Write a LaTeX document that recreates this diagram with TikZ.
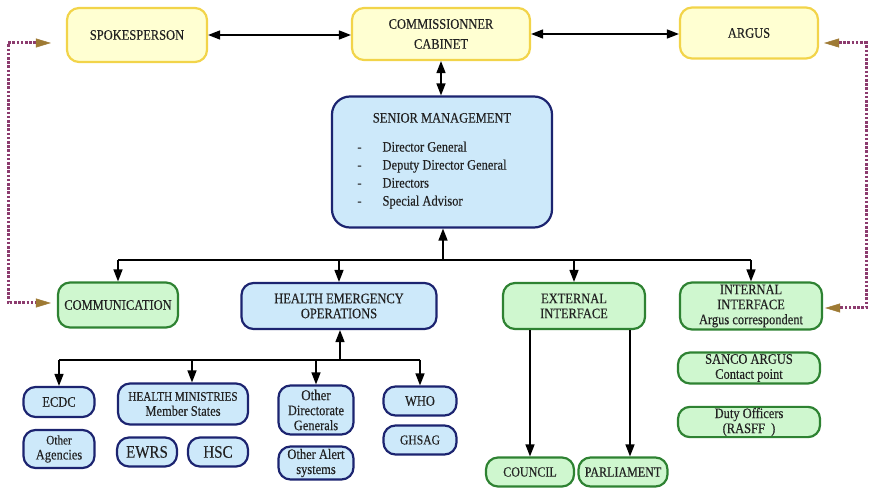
\documentclass[tikz,border=0pt]{standalone}
\usepackage{fontspec}
\setmainfont{Liberation Serif}[FakeStretch=0.86,FakeBold=0.3]
\usetikzlibrary{arrows.meta}
\definecolor{yfill}{HTML}{FFFFD2}
\definecolor{ydraw}{HTML}{F2D44A}
\definecolor{bfill}{HTML}{CDE9FA}
\definecolor{bdraw}{HTML}{1C2470}
\definecolor{gfill}{HTML}{CFF7CF}
\definecolor{gdraw}{HTML}{2E8232}
\definecolor{dotc}{HTML}{8C3B6E}
\definecolor{tipc}{HTML}{9E7A34}
\definecolor{txt}{HTML}{222222}
\begin{document}
\begin{tikzpicture}[x=1pt,y=-1pt,
  box/.style={rounded corners=12pt, line width=2.2pt, align=center, text=txt, inner sep=1pt,
    font=\fontsize{14.5}{15}\selectfont},
  ybox/.style={box, fill=yfill, draw=ydraw},
  bbox/.style={box, fill=bfill, draw=bdraw},
  gbox/.style={box, fill=gfill, draw=gdraw},
  wh/.style n args={2}{minimum width=#1, minimum height=#2},
  arr/.style={line width=1.6pt, -{Triangle[length=12pt,width=9pt]}},
  biarr/.style={line width=1.6pt, {Triangle[length=12pt,width=9pt]}-{Triangle[length=12pt,width=9pt]}},
  ln/.style={line width=1.6pt},
  dotarr/.style={draw=dotc, line width=3pt, dash pattern=on 2.6pt off 1.6pt,
    {Triangle[length=15pt,width=9pt,color=tipc,line width=0.5pt]}-{Triangle[length=15pt,width=9pt,color=tipc,line width=0.5pt]}}
]
\useasboundingbox (0,0) rectangle (871,489);
% top row
\node[ybox, wh={140}{54}] (spk) at (137,35) {SPOKESPERSON};
\node[ybox, wh={178}{52}] (cab) at (441,34) {COMMISSIONNER\\[5pt]CABINET};
\node[ybox, wh={138}{51}] (arg) at (749,33) {ARGUS};
% senior management
\node[bbox, rounded corners=18pt, wh={220}{131}] (sm) at (442,162)
  {SENIOR MANAGEMENT\\[14pt]{\fontsize{14.5}{18}\selectfont\begin{tabular}[t]{@{}l@{\hspace{21pt}}l@{}}
  -&Director General\\ -&Deputy Director General\\ -&Directors\\ -&Special Advisor\end{tabular}}\rule{20pt}{0pt}};
% second row
\node[gbox, wh={120}{45}] (com) at (118,305) {COMMUNICATION};
\node[bbox, wh={195}{46}] (heo) at (339,306) {\fontsize{14.5}{18}\selectfont HEALTH EMERGENCY\\OPERATIONS};
\node[gbox, wh={142}{46}] (ext) at (574,306) {EXTERNAL\\INTERFACE};
\node[gbox, wh={142}{47}] (int) at (751,306) {\fontsize{14.5}{12.5}\selectfont INTERNAL\\INTERFACE\\Argus correspondent};
% health emergency children
\node[bbox, wh={71}{30}] (ecdc) at (59,402) {ECDC};
\node[bbox, wh={71}{38}] (oag) at (59,449) {\fontsize{13}{17}\selectfont Other\\Agencies};
\node[bbox, wh={130}{41}] (hm) at (183,404) {{\fontsize{13}{15}\selectfont HEALTH MINISTRIES}\\Member States};
\node[bbox, wh={60}{29}] (ewrs) at (147,452) {\fontsize{17.5}{18}\selectfont EWRS};
\node[bbox, wh={60}{29}] (hsc) at (218,452) {\fontsize{17.5}{18}\selectfont HSC};
\node[bbox, wh={75}{49}] (odg) at (316,410) {\fontsize{15}{16}\selectfont Other\\Directorate\\Generals};
\node[bbox, wh={75}{33}] (oas) at (316,463) {Other Alert\\systems};
\node[bbox, wh={73}{29}] (who) at (420,401) {WHO};
\node[bbox, wh={73}{29}] (ghsag) at (420,440) {\fontsize{13.5}{15}\selectfont GHSAG};
% external / internal children
\node[gbox, wh={88}{29}] (council) at (530,472) {\fontsize{14}{15}\selectfont COUNCIL};
\node[gbox, wh={89}{29}] (parl) at (623,472) {\fontsize{14}{15}\selectfont PARLIAMENT};
\node[gbox, wh={142}{31}] (sanco) at (749,368) {\fontsize{14.5}{12.5}\selectfont SANCO ARGUS\\Contact point};
\node[gbox, wh={142}{30}] (duty) at (749,422) {\fontsize{14.5}{17}\selectfont Duty Officers\\(RASFF~~)};
% top connectors
\draw[biarr] (spk.east) -- (spk.east -| cab.west);
\draw[biarr] (cab.east) -- (cab.east -| arg.west);
\draw[biarr] (cab.south) -- (cab.south |- sm.north);
% main bus
\coordinate (b1) at (443,260);
\draw[arr] (b1) -- (b1 |- sm.south);
\draw[ln] (com.north |- b1) -- (int.north |- b1);
\foreach \n in {com,heo,ext,int} \draw[arr] (\n.north |- b1) -- (\n.north);
% health emergency bus
\coordinate (b2) at (340,360);
\draw[arr] (b2) -- (b2 |- heo.south);
\draw[ln] (ecdc.north |- b2) -- (who.north |- b2);
\coordinate (hmn) at ([xshift=9pt]hm.north);
\foreach \n in {ecdc.north,hmn,odg.north,who.north} \draw[arr] (\n |- b2) -- (\n);
% external interface
\draw[arr] (council.north |- ext.south) -- (council.north);
\coordinate (pn) at ([xshift=7pt]parl.north);
\draw[arr] (pn |- ext.south) -- (pn);
% dotted links
\coordinate (dl1) at (8,43);
\coordinate (dl2) at (8,303);
\draw[dotarr] ([xshift=-15pt,yshift=-8pt]spk.west) -- (dl1) -- (dl2) -- ([xshift=-6pt,yshift=2pt]com.west);
\coordinate (dr1) at (866,43);
\coordinate (dr2) at (866,308);
\draw[dotarr] ([xshift=5pt,yshift=-10pt]arg.east) -- (dr1) -- (dr2) -- ([xshift=2pt,yshift=-2pt]int.east);
\end{tikzpicture}
\end{document}
